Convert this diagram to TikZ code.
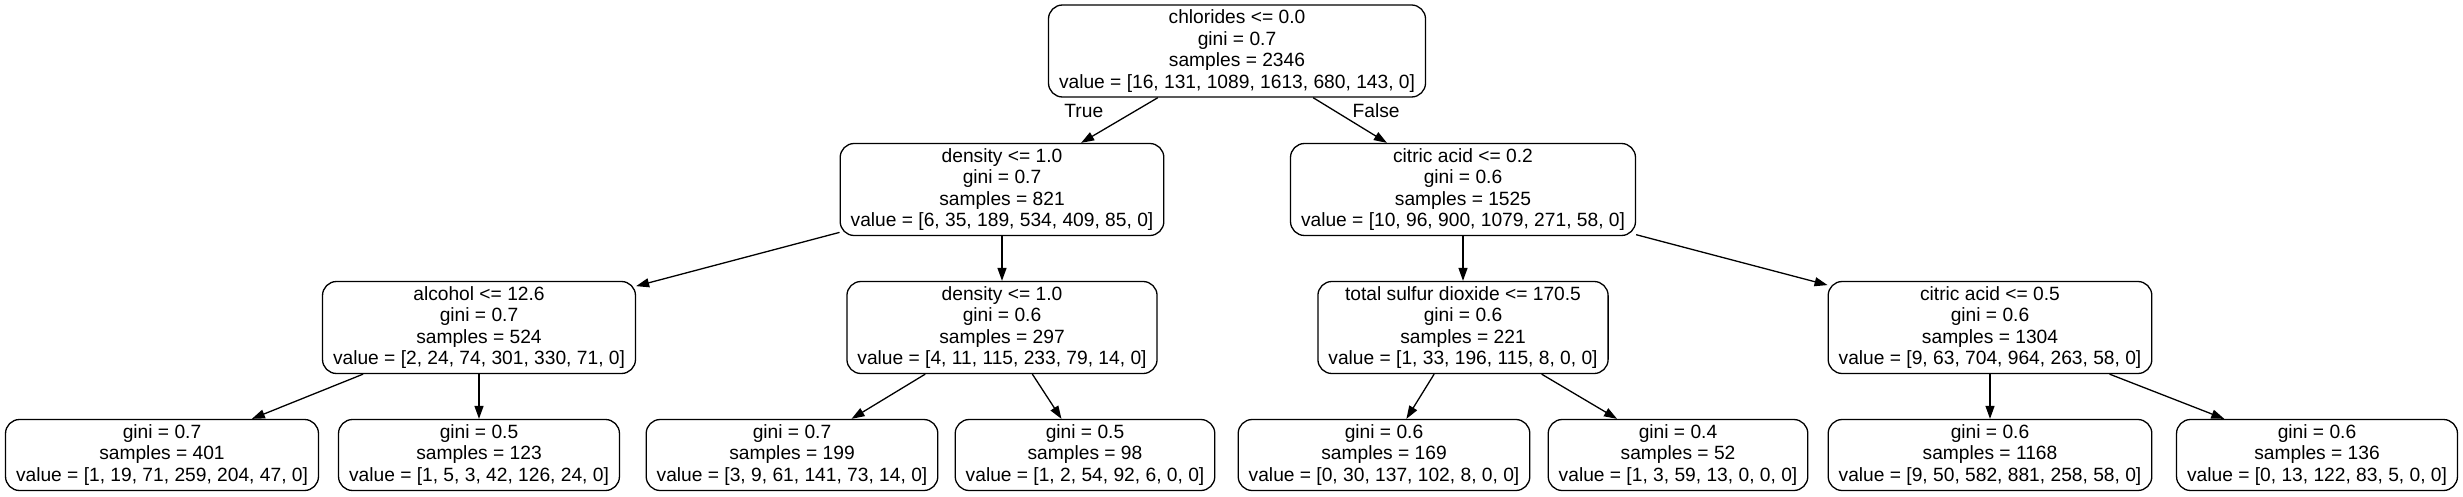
\documentclass[tikz,border=0pt]{standalone}
\usepackage{fontspec}
\setmainfont{Liberation Sans}
\usetikzlibrary{arrows.meta}

\begin{document}
\begin{tikzpicture}[x=1pt, y=-1pt, >={Triangle[length=13pt, width=9pt]}, line width=1.3pt,
    split/.style={draw, rounded corners=14pt, align=center, inner xsep=10.5pt, inner ysep=0pt,
      minimum height=92pt, font=\fontsize{19.2}{21.5}\selectfont},
    leaf/.style={split, minimum height=71pt},
    edgelabel/.style={font=\fontsize{19.2}{21.5}\selectfont}]
    \useasboundingbox (0,0) rectangle (2463,497);

    % 1. root and first split
    \node[split] (root) at (1237, 51) {chlorides <= 0.0\\gini = 0.7\\samples = 2346\\value = [16, 131, 1089, 1613, 680, 143, 0]};
    \node[split] (dens) at (1002, 189.5) {density <= 1.0\\gini = 0.7\\samples = 821\\value = [6, 35, 189, 534, 409, 85, 0]};
    \node[split] (citr) at (1463, 189.5) {citric acid <= 0.2\\gini = 0.6\\samples = 1525\\value = [10, 96, 900, 1079, 271, 58, 0]};

    % 2. second level
    \node[split] (alco) at (479, 327.5) {alcohol <= 12.6\\gini = 0.7\\samples = 524\\value = [2, 24, 74, 301, 330, 71, 0]};
    \node[split] (densb) at (1002, 327.5) {density <= 1.0\\gini = 0.6\\samples = 297\\value = [4, 11, 115, 233, 79, 14, 0]};
    \node[split] (tsd) at (1463, 327.5) {total sulfur dioxide <= 170.5\\gini = 0.6\\samples = 221\\value = [1, 33, 196, 115, 8, 0, 0]};
    \node[split] (citrb) at (1990, 327.5) {citric acid <= 0.5\\gini = 0.6\\samples = 1304\\value = [9, 63, 704, 964, 263, 58, 0]};

    % 3. leaves
    \node[leaf] (l1) at (162, 455) {gini = 0.7\\samples = 401\\value = [1, 19, 71, 259, 204, 47, 0]};
    \node[leaf] (l2) at (479, 455) {gini = 0.5\\samples = 123\\value = [1, 5, 3, 42, 126, 24, 0]};
    \node[leaf] (l3) at (792, 455) {gini = 0.7\\samples = 199\\value = [3, 9, 61, 141, 73, 14, 0]};
    \node[leaf] (l4) at (1085, 455) {gini = 0.5\\samples = 98\\value = [1, 2, 54, 92, 6, 0, 0]};
    \node[leaf] (l5) at (1384, 455) {gini = 0.6\\samples = 169\\value = [0, 30, 137, 102, 8, 0, 0]};
    \node[leaf] (l6) at (1678, 455) {gini = 0.4\\samples = 52\\value = [1, 3, 59, 13, 0, 0, 0]};
    \node[leaf] (l7) at (1990, 455) {gini = 0.6\\samples = 1168\\value = [9, 50, 582, 881, 258, 58, 0]};
    \node[leaf] (l8) at (2317, 455) {gini = 0.6\\samples = 136\\value = [0, 13, 122, 83, 5, 0, 0]};

    % 4. edges
    \draw[->] (root) -- (dens) node[edgelabel, pos=0.4, left=20pt, yshift=5pt] {True};
    \draw[->] (root) -- (citr) node[edgelabel, pos=0.4, right=6pt, yshift=5pt] {False};
    \draw[->] (dens) -- (alco);
    \draw[->] (dens) -- (densb);
    \draw[->] (citr) -- (tsd);
    \draw[->] (citr) -- (citrb);
    \draw[->] (alco) -- (l1);
    \draw[->] (alco) -- (l2);
    \draw[->] (densb) -- (l3);
    \draw[->] (densb) -- (l4);
    \draw[->] (tsd) -- (l5);
    \draw[->] (tsd) -- (l6);
    \draw[->] (citrb) -- (l7);
    \draw[->] (citrb) -- (l8);
\end{tikzpicture}
\end{document}
